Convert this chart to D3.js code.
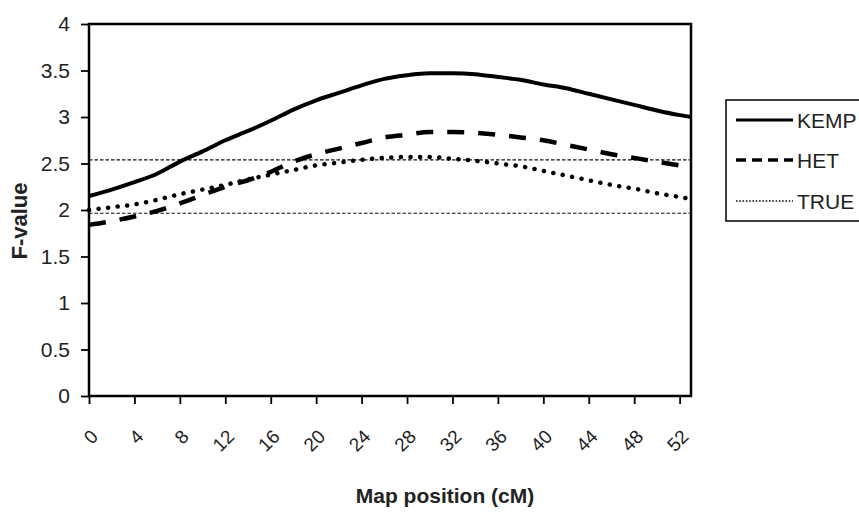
<!DOCTYPE html>
<html><head><meta charset="utf-8">
<script src="https://cdn.jsdelivr.net/npm/d3@7"></script>
<style>
html,body{margin:0;padding:0;background:#fff;}
svg{display:block;}
text{font-family:"Liberation Sans",Arial,sans-serif;fill:#222;}
</style></head>
<body>
<svg id="chart" width="859" height="512"></svg>
<script>
// ---- data ----
const positions = [0,2,4,6,8,10,12,14,16,18,20,22,24,26,28,30,32,34,36,38,40,42,44,46,48,50,52,53];
const kemp = [2.15,2.22,2.30,2.39,2.52,2.63,2.75,2.85,2.96,3.08,3.18,3.26,3.34,3.41,3.45,3.47,3.47,3.46,3.43,3.40,3.35,3.31,3.25,3.19,3.13,3.07,3.02,3.00];
const het  = [1.84,1.88,1.93,1.99,2.07,2.16,2.25,2.32,2.41,2.52,2.60,2.66,2.72,2.78,2.81,2.84,2.84,2.83,2.81,2.78,2.75,2.70,2.65,2.60,2.56,2.52,2.48,2.46];
const truth= [2.00,2.03,2.06,2.11,2.17,2.22,2.27,2.33,2.38,2.43,2.48,2.51,2.54,2.56,2.57,2.57,2.55,2.53,2.50,2.47,2.42,2.37,2.32,2.27,2.23,2.18,2.14,2.12];
const thresholds = [2.54, 1.965];
const xTickValues = [0,4,8,12,16,20,24,28,32,36,40,44,48,52];
const yTickValues = [0,0.5,1,1.5,2,2.5,3,3.5,4];
const seriesNames = ["KEMP","HET","TRUE"];
const yTitle = "F-value";
const xTitle = "Map position  (cM)";

const svg = d3.select("#chart");
const L = 89, R = 691, T = 24, B = 396;
const x = d3.scaleLinear().domain([0,53]).range([L,R]);
const y = d3.scaleLinear().domain([0,4]).range([B,T]);

// threshold lines
svg.selectAll("line.thr").data(thresholds).enter().append("line")
  .attr("x1",L).attr("x2",R).attr("y1",d=>y(d)).attr("y2",d=>y(d))
  .attr("stroke","#111").attr("stroke-width",1.2).attr("stroke-dasharray","3.5,2");

// series
const styles = [
  {w:4, dash:null, cap:"butt", ldash:null, lw:3},
  {w:4.5, dash:"17,14", cap:"butt", ldash:"10,6", lw:3.5},
  {w:4.5, dash:"0.1,9.5", cap:"round", ldash:"1.5,1.8", lw:1.6}
];
const data = [kemp, het, truth];
const line = d3.line().x((d,i)=>x(positions[i])).y(d=>y(d)).curve(d3.curveMonotoneX);
data.forEach((vals,k)=>{
  const p = svg.append("path").datum(vals).attr("d",line)
    .attr("fill","none").attr("stroke","#000").attr("stroke-width",styles[k].w)
    .attr("stroke-linecap",styles[k].cap).attr("stroke-linejoin","round");
  if (styles[k].dash) p.attr("stroke-dasharray",styles[k].dash);
});

// frame
svg.append("rect").attr("x",L).attr("y",T).attr("width",R-L).attr("height",B-T)
  .attr("fill","none").attr("stroke","#000").attr("stroke-width",2.5);

// y axis
const yAxis = d3.axisLeft(y).tickValues(yTickValues).tickSize(8).tickPadding(11)
  .tickFormat(d=>String(d));
const gy = svg.append("g").attr("transform",`translate(${L},0)`).call(yAxis);
gy.select(".domain").remove();
gy.selectAll(".tick line").attr("stroke","#000").attr("stroke-width",1.8);
gy.selectAll(".tick text").attr("font-size",21).attr("fill","#333")
  .style("font-family","'Liberation Sans',Arial,sans-serif");

// x axis
const xAxis = d3.axisBottom(x).tickValues(xTickValues).tickSize(8).tickFormat(d=>String(d));
const gx = svg.append("g").attr("transform",`translate(0,${B})`).call(xAxis);
gx.select(".domain").remove();
gx.selectAll(".tick line").attr("stroke","#000").attr("stroke-width",1.8);
gx.selectAll(".tick text")
  .attr("font-size",19).attr("fill","#333")
  .style("font-family","'Liberation Sans',Arial,sans-serif")
  .attr("text-anchor","end").attr("dy","0.35em")
  .attr("y",0).attr("x",0)
  .attr("transform","translate(5,37) rotate(-45)");

// titles
svg.append("text").attr("transform","translate(27,221) rotate(-90)")
  .attr("text-anchor","middle").attr("font-size",22).attr("font-weight","bold")
  .text(yTitle);
svg.append("text").attr("x",445).attr("y",503).attr("text-anchor","middle")
  .attr("font-size",21).attr("font-weight","bold").text(xTitle);

// legend
svg.append("rect").attr("x",726).attr("y",100).attr("width",140).attr("height",121)
  .attr("fill","#fff").attr("stroke","#000").attr("stroke-width",1.5);
const ly = [120,160,201];
seriesNames.forEach((name,k)=>{
  const l = svg.append("line").attr("x1",736).attr("x2",793).attr("y1",ly[k]).attr("y2",ly[k])
    .attr("stroke","#000").attr("stroke-width",styles[k].lw);
  if (styles[k].ldash) l.attr("stroke-dasharray",styles[k].ldash);
  svg.append("text").attr("x",797).attr("y",ly[k]+8).attr("font-size",21).attr("fill","#222").text(name);
});
</script>
</body></html>
